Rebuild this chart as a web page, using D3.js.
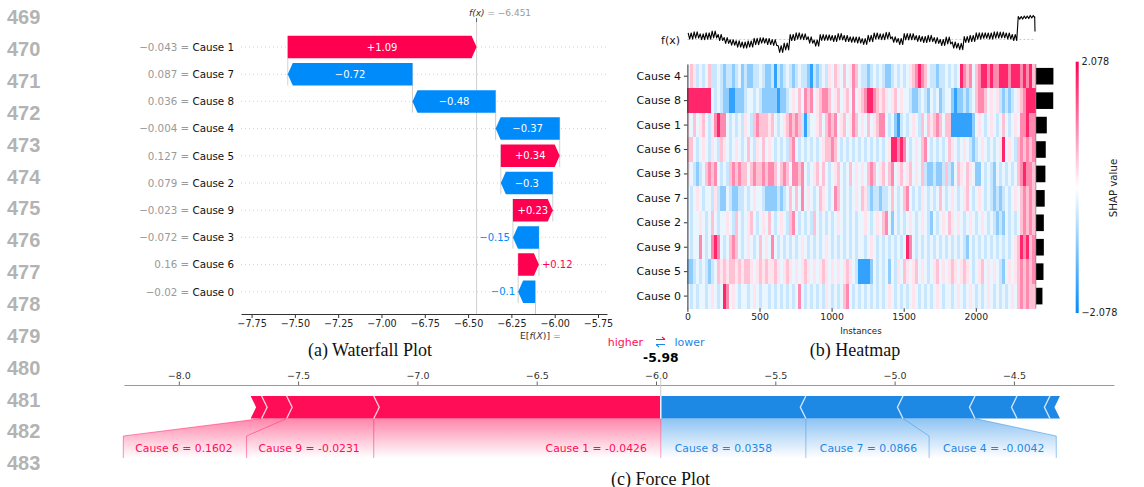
<!DOCTYPE html>
<html><head><meta charset="utf-8">
<script src="https://cdn.jsdelivr.net/npm/d3@7"></script>
<style>
html,body{margin:0;padding:0;background:#fff;}
svg{display:block;font-family:"DejaVu Sans",sans-serif;}
</style></head><body>
<svg id="fig" width="1144" height="487"></svg>
<script>
// ---------------- data ----------------
const lineNumbers = [469,470,471,472,473,474,475,476,477,478,479,480,481,482,483];

// (a) waterfall: one instance, top row first
const wfFeatures = ["Cause 1","Cause 7","Cause 8","Cause 4","Cause 5","Cause 2","Cause 9","Cause 3","Cause 6","Cause 0"];
const wfFeatureValues = [-0.043,0.087,0.036,-0.004,0.127,0.079,-0.023,-0.072,0.16,-0.02];
const wfShap = [1.09,-0.72,-0.48,-0.37,0.34,-0.3,0.23,-0.15,0.12,-0.1];
const wfOutput = -6.451;
const wfTicks = [-7.75,-7.5,-7.25,-7.0,-6.75,-6.5,-6.25,-6.0,-5.75];

// (b) heatmap
const hmFeatures = ["Cause 4","Cause 8","Cause 1","Cause 6","Cause 3","Cause 7","Cause 2","Cause 9","Cause 5","Cause 0"];
const hmInstances = 2414;
const hmLimit = 2.078;
const hmTicks = [0,500,1000,1500,2000];
const hmImportance = [1.0,0.99,0.62,0.56,0.54,0.50,0.45,0.45,0.43,0.37];
// SHAP value of each code letter
const hmLevels = {B:-1.66,b:-0.92,l:-0.45,w:-0.18,".":0,p:0.22,q:0.5,r:0.95,R:1.77};
// one string per feature, each letter = one run of consecutive instances
const hmRows = [
  "wqplwlwqllwlbllblwblbbllwlbb"+"lBlblwlblwllbBlblwlpwqpwqwprqw"+"llblwlwlbblwlwlwpqrRrqwllbllw"+"lwlwRrqrwqrRRrRrrRRRrRRRrRrRq",
  "RRRRRRRRwlwlbbBBbbblwwlwlbbb"+"bbBbblwpwqwrqrwpqrrqwpqwpqwrwp"+"qrRRrqpqpwpqwpwwlbblwlbwlwblw"+"wbBbblblwqrrqwpwplblblwpqrRRR",
  "pwqwpqwlprRrrwlwlwlpwlqrqqqp"+"qwlwpqrqrqlBlwwpqwqrqrwpqwprqw"+"pwqwpqrrwlwbBlwlwpwlqwqpqrqwq"+"qBBBBBBBbwpwlwpwlwqwlwpwrrRrr",
  "qqwlwpwlpwlqpwlwpwlwqwlpwqwp"+"wlwlwlqrwlwlwlwlwpqqrqwlwlwlwl"+"wlwlwlwlwpRRrRrwlwpwqrwlwlwlw"+"qpwlwpwlblwpwlwlwpRwpwlqrqrqr",
  "pwlblwqrqrwlwlqrqrqqwqrqqrqr"+"rqwqrqwrrqrwlwpqwqwlwpqwlwqwpw"+"pwqrqwpqwqrwpqwpqwpwqlbblbblq"+"lbwqpwqpwbbwlwlbwlwlwlwqrRrrq",
  "wlwpwlwwlplbbwlbbllwlwpwwlbb"+"bblblwqwqwrwpwlwqpwlwrqwlwlwpw"+"qplbllbllwqwlwqrwlwlpwlwlwqwl"+"wpwlwpqwlwpwlwlblblwlwpwqrqrq",
  "wlwwpwlwqwlwwpwlqwlwpqwlwpwq"+"wlwpwlqrwlwlwlqwlwlwlwpwlwlwlw"+"wpwlwpwqrwbwlwlwpwlwpwlbwlwpw"+"qpwpwlwpwlwpwlwlblbwlwlwqrqrq",
  "wlwwrwlwrRrwlwqrqwlwpwlwqwpw"+"rwlwlwlwlwpwlwlwlwpwlwlwlwlwlw"+"wlwpwlwlwlwlwlwRrwlwlwlwlwlwl"+"wlwlwlbwlwlwlwlwlwlwlwpqRrRqr",
  "bblwlwlblwqpqpqqpqpqqpwpqpqp"+"pqpwpqpwpwpqpwpwpqpwpwpwpqpwlB"+"BBBbwlwlwbwlpwqpwpqwpwlwpqwpw"+"pqpwpqpwlwpqwpwpwlbwpwpqrqrqr",
  "wlwlwwlwpwlwRrwpwlwwlwpwlwwl"+"wlwlwlwlwrwlwlwlwlpwlwlwqrwlwl"+"wlwlwlwlwpwlwlwlwpwlwlwlwpwlw"+"wlwpwlwpwlwlwpwlwlwlwpwqrqrqq"
];
// model output f(x) over the instances: centre and half-range per run
const fxMid = [-5.65,-5.52,-5.74,-5.65,-5.46,-5.84,-6.21,-6.46,-6.65,-6.78,
  -6.65,-6.34,-6.21,-6.34,-6.46,-7.28,-6.96,-5.84,-5.65,-5.74,
  -6.15,-6.53,-5.84,-5.84,-5.96,-5.74,-5.96,-6.09,-6.15,-6.34,
  -5.96,-5.65,-5.74,-5.59,-6.09,-6.34,-5.74,-5.74,-5.96,-6.09,
  -5.96,-6.21,-6.46,-6.21,-6.78,-6.96,-6.09,-5.96,-5.65,-5.59,
  -5.65,-5.52,-5.52,-5.65,-5.84,-3.38,-3.31,-3.24];
const fxSpread = [0.38,0.4,0.36,0.4,0.42,0.38,0.36,0.34,0.4,0.38,
  0.38,0.4,0.34,0.38,0.36,0.42,0.42,0.38,0.4,0.36,
  0.4,0.38,0.36,0.34,0.38,0.4,0.38,0.34,0.38,0.36,
  0.4,0.38,0.36,0.4,0.34,0.38,0.4,0.38,0.36,0.38,
  0.4,0.36,0.38,0.42,0.38,0.4,0.36,0.38,0.4,0.34,
  0.38,0.4,0.36,0.38,0.38,0.16,0.16,0.16];
const fxLast = -5.1;
const fxBase = -6.08;

// (c) force plot
const fpOutput = -5.98;
const fpNames = ["Cause 1","Cause 9","Cause 6","Cause 5","Cause 8","Cause 7","Cause 4","Cause 2","Cause 3","Cause 0"];
const fpEffects = [1.203,0.365,0.105,0.046,-0.608,-0.407,-0.302,-0.176,-0.138,-0.042];
const fpValues = ["-0.0426","-0.0231","0.1602",null,"0.0358","0.0866","-0.0042",null,null,null];
const fpTicks = [-8.0,-7.5,-7.0,-6.5,-6.0,-5.5,-5.0,-4.5];

// ---------------- drawing ----------------
const RED = "#ff0051", BLUE = "#008bfb";
const FRED = "#ff0d57", FBLUE = "#1e88e5";
const svg = d3.select("#fig");
const defs = svg.append("defs");
const trimNum = (v, d) => { let s = Math.abs(v).toFixed(d).replace(/0+$/,"").replace(/\.$/,""); return (v < 0 ? "\u2212" : "") + s; };

// line numbers in the margin
svg.append("g").selectAll("text").data(lineNumbers).join("text")
  .attr("x", 7).attr("y", (d, i) => 17 + 31.86 * i).attr("dy", "0.36em")
  .attr("font-family", "Liberation Sans, Arial, sans-serif").attr("font-weight", "bold")
  .attr("font-size", 20).attr("fill", "#b3b3b3").text(d => d);

// ===== (a) waterfall =====
const wf = svg.append("g");
const wx = d3.scaleLinear().domain([-7.811, -5.698]).range([241, 607]);
const rowY = i => 47 + 27.2 * i;
const barH = 22.5, headLen = 5;
// cumulative positions, from f(x) at the top down to the base value
const wfEnd = [], wfStart = [];
{ let cur = wfOutput; wfShap.forEach((v, i) => { wfEnd[i] = cur; wfStart[i] = cur - v; cur = wfStart[i]; }); }
const wfBase = wfStart[wfStart.length - 1];

// dotted row guides
wf.append("g").selectAll("line").data(wfFeatures).join("line")
  .attr("x1", 241).attr("x2", 607).attr("y1", (d, i) => rowY(i)).attr("y2", (d, i) => rowY(i))
  .attr("stroke", "#c8c8c8").attr("stroke-width", 0.8).attr("stroke-dasharray", "1,3");
// connectors between consecutive bars
wf.append("g").selectAll("line").data(d3.range(wfFeatures.length - 1)).join("line")
  .attr("x1", i => wx(wfStart[i])).attr("x2", i => wx(wfStart[i]))
  .attr("y1", i => rowY(i) - barH / 2).attr("y2", i => rowY(i + 1) + barH / 2)
  .attr("stroke", "#bbb").attr("stroke-width", 0.7);
// f(x) and E[f(X)] guides
wf.append("line").attr("x1", wx(wfOutput)).attr("x2", wx(wfOutput)).attr("y1", 19).attr("y2", 314)
  .attr("stroke", "#c4c4c4").attr("stroke-width", 0.8);
wf.append("line").attr("x1", wx(wfOutput)).attr("x2", wx(wfOutput)).attr("y1", 18).attr("y2", 22)
  .attr("stroke", "#444").attr("stroke-width", 0.8);
wf.append("line").attr("x1", wx(wfBase)).attr("x2", wx(wfBase)).attr("y1", rowY(9) + barH / 2).attr("y2", 314)
  .attr("stroke", "#bbb").attr("stroke-width", 0.8);

// bars
wfShap.forEach((v, i) => {
  const xs = wx(wfStart[i]), xe = wx(wfEnd[i]), y = rowY(i);
  const dir = Math.sign(xe - xs), h = Math.min(Math.abs(xe - xs), headLen);
  const pts = [[xs, y - barH / 2], [xe - dir * h, y - barH / 2], [xe, y], [xe - dir * h, y + barH / 2], [xs, y + barH / 2]];
  const col = v > 0 ? RED : BLUE;
  wf.append("path").attr("d", d3.line()(pts) + "Z").attr("fill", col);
  const label = (v > 0 ? "+" : "") + trimNum(v, 2);
  const t = wf.append("text").attr("y", y).attr("dy", "0.36em").attr("font-size", 10).text(label);
  const tw = t.node().getComputedTextLength();
  if (Math.abs(xe - xs) > tw + 4) {
    t.attr("x", (xs + xe) / 2).attr("text-anchor", "middle").attr("fill", "#fff");
  } else if (v > 0) {
    t.attr("x", xe + 3).attr("text-anchor", "start").attr("fill", col);
  } else {
    t.attr("x", xe - 3).attr("text-anchor", "end").attr("fill", col);
  }
});
// row labels
wfFeatures.forEach((name, i) => {
  const t = wf.append("text").attr("x", 234).attr("y", rowY(i)).attr("dy", "0.36em")
    .attr("text-anchor", "end").attr("font-size", 10.3);
  t.append("tspan").attr("fill", "#999").text(trimNum(wfFeatureValues[i], 3) + " = ");
  t.append("tspan").attr("fill", "#111").text(name);
});
// axis
const wAxis = wf.append("g").attr("transform", "translate(0,314)")
  .call(d3.axisBottom(wx).tickValues(wfTicks).tickFormat(d3.format(".2f")).tickSize(4).tickSizeOuter(0).tickPadding(2));
wAxis.select(".domain").attr("stroke", "#333");
wAxis.selectAll(".tick line").attr("stroke", "#333");
wAxis.selectAll("text").attr("font-size", 9.6).attr("font-family", "DejaVu Sans").attr("fill", "#222");
// f(x) / E[f(X)] labels
{
  const t = wf.append("text").attr("x", 469).attr("y", 16).attr("font-size", 9);
  t.append("tspan").attr("fill", "#333").attr("font-style", "italic").text("f(x)");
  t.append("tspan").attr("fill", "#999").text(" = " + trimNum(wfOutput, 3));
  const e = wf.append("text").attr("x", 520).attr("y", 338.5).attr("font-size", 9.3);
  e.append("tspan").attr("fill", "#333").text("E[");
  e.append("tspan").attr("fill", "#333").attr("font-style", "italic").text("f");
  e.append("tspan").attr("fill", "#333").text("(");
  e.append("tspan").attr("fill", "#333").attr("font-style", "italic").text("X");
  e.append("tspan").attr("fill", "#333").text(")]");
  e.append("tspan").attr("fill", "#999").text(" =");
}
svg.append("text").attr("x", 370).attr("y", 355.5).attr("text-anchor", "middle")
  .attr("font-family", "Liberation Serif, Times New Roman, serif").attr("font-size", 18).attr("fill", "#111")
  .text("(a) Waterfall Plot");

// ===== (b) heatmap =====
const hm = svg.append("g");
const hx = d3.scaleLinear().domain([0, hmInstances]).range([687.4, 1035.5]);
const hy = d3.scaleBand().domain(hmFeatures).range([64, 308.3]);
const posC = d3.interpolateRgb("#ffffff", RED), negC = d3.interpolateRgb("#ffffff", BLUE);
const hmColor = v => v >= 0 ? posC(Math.min(1, v / hmLimit)) : negC(Math.min(1, -v / hmLimit));

hmRows.forEach((str, r) => {
  const run = hmInstances / str.length;
  const cells = Array.from(str, (c, i) => ({ i, v: hmLevels[c] }));
  hm.append("g").selectAll("rect").data(cells).join("rect")
    .attr("x", d => hx(d.i * run)).attr("width", d => hx((d.i + 1) * run) - hx(d.i * run) + 0.35)
    .attr("y", hy(hmFeatures[r])).attr("height", hy.bandwidth() + 0.3)
    .attr("fill", d => hmColor(d.v)).attr("shape-rendering", "crispEdges");
});
// importance bars
hm.append("g").selectAll("rect").data(hmImportance).join("rect")
  .attr("x", hx(hmInstances) + 0.5).attr("width", d => hx(d * hmInstances / 20) - hx(0))
  .attr("y", (d, i) => hy(hmFeatures[i]) + hy.bandwidth() * 0.16).attr("height", hy.bandwidth() * 0.68)
  .attr("fill", "#000");
hm.append("line").attr("x1", hx(hmInstances) + 0.3).attr("x2", hx(hmInstances) + 0.3).attr("y1", 64).attr("y2", 308.3)
  .attr("stroke", "#888").attr("stroke-width", 0.8);
// axes
const hyAxis = hm.append("g").attr("transform", "translate(687.4,0)")
  .call(d3.axisLeft(hy).tickSize(3.5).tickSizeOuter(0).tickPadding(3));
hyAxis.select(".domain").attr("stroke", "#333");
hyAxis.selectAll(".tick line").attr("stroke", "#333");
hyAxis.selectAll("text").attr("font-size", 11).attr("font-family", "DejaVu Sans").attr("fill", "#111");
const hxAxis = hm.append("g").attr("transform", "translate(0,308.3)")
  .call(d3.axisBottom(hx).tickValues(hmTicks).tickFormat(d3.format("d")).tickSize(3.5).tickPadding(2));
hxAxis.select(".domain").remove();
hxAxis.selectAll(".tick line").attr("stroke", "#333");
hxAxis.selectAll("text").attr("font-size", 9.3).attr("font-family", "DejaVu Sans").attr("fill", "#222");
hm.append("text").attr("x", 861).attr("y", 334).attr("text-anchor", "middle").attr("font-size", 8.7).attr("fill", "#222").text("Instances");

// f(x) trace above the heatmap: each run drawn between its low and high values
const fyScale = d3.scaleLinear().domain([-7.9, -3.0]).range([54, 14.8]);
hm.append("line").attr("x1", hx(0)).attr("x2", hx(hmInstances)).attr("y1", fyScale(fxBase)).attr("y2", fyScale(fxBase))
  .attr("stroke", "#bbb").attr("stroke-width", 0.8).attr("stroke-dasharray", "2,2");
{
  const run = hmInstances / fxMid.length, pts = [];
  fxMid.forEach((m, j) => {
    const s = fxSpread[j];
    [[0.125, m + s], [0.375, m - s], [0.625, m + s], [0.875, m - s]].forEach(([f, v]) => pts.push([hx((j + f) * run), fyScale(v)]));
  });
  pts.push([hx(hmInstances) - 0.8, fyScale(fxMid[fxMid.length - 1])]);
  pts.push([hx(hmInstances) - 0.5, fyScale(fxLast)]);
  hm.append("path").attr("d", d3.line()(pts)).attr("fill", "none").attr("stroke", "#000").attr("stroke-width", 1.1)
    .attr("stroke-linejoin", "round");
}
hm.append("text").attr("x", 680).attr("y", 40).attr("dy", "0.36em").attr("text-anchor", "end").attr("font-size", 11).attr("fill", "#111").text("f(x)");

// colour bar
{
  const g = defs.append("linearGradient").attr("id", "cbar").attr("x1", 0).attr("x2", 0).attr("y1", 0).attr("y2", 1);
  d3.range(0, 1.0001, 0.1).forEach(t => g.append("stop").attr("offset", t).attr("stop-color", hmColor(hmLimit * (1 - 2 * t))));
  hm.append("rect").attr("x", 1075.7).attr("y", 61.7).attr("width", 3).attr("height", 251.3).attr("fill", "url(#cbar)");
  hm.append("text").attr("x", 1081.5).attr("y", 62).attr("dy", "0.36em").attr("font-size", 9.7).attr("fill", "#222").text(trimNum(hmLimit, 3));
  hm.append("text").attr("x", 1081.5).attr("y", 313).attr("dy", "0.36em").attr("font-size", 9.7).attr("fill", "#222").text(trimNum(-hmLimit, 3));
  hm.append("text").attr("transform", "translate(1113,188) rotate(-90)").attr("text-anchor", "middle").attr("dy", "0.36em")
    .attr("font-size", 10.2).attr("fill", "#222").text("SHAP value");
}
svg.append("text").attr("x", 855).attr("y", 355.5).attr("text-anchor", "middle")
  .attr("font-family", "Liberation Serif, Times New Roman, serif").attr("font-size", 18).attr("fill", "#111")
  .text("(b) Heatmap");

// ===== (c) force plot =====
const fp = svg.append("g");
const fxScale = d3.scaleLinear().domain([-8.2297, -4.0805]).range([124, 1114]);
const barTop = 396, barBot = 418.5, barMid = (barTop + barBot) / 2, tip = 5.5;
const ox = fxScale(fpOutput);
const fpFont = 10.8;

// axis
const fAxis = fp.append("g").attr("transform", "translate(0,385)")
  .call(d3.axisTop(fxScale).tickValues(fpTicks).tickFormat(d3.format(".1f")).tickSize(3.5).tickSizeOuter(0).tickPadding(3));
fAxis.select(".domain").attr("stroke", "#999");
fAxis.selectAll(".tick line").attr("stroke", "#666");
fAxis.selectAll("text").attr("font-size", 9.5).attr("font-family", "DejaVu Sans").attr("fill", "#333");

// segments
const pos = [], neg = [];
{
  let r = ox, l = ox;
  fpEffects.forEach((e, i) => {
    const w = fxScale(fpOutput + Math.abs(e)) - ox;
    if (e > 0) { pos.push({ i, a: r - w, b: r, first: pos.length === 0 }); r -= w; }
    else { neg.push({ i, a: l, b: l + w, first: neg.length === 0 }); l += w; }
  });
}
// label boxes below the bar
const labelY = 448.3, boxTop = 436, boxBot = 458, pad = 14;
const measure = svg.append("text").attr("font-size", fpFont).attr("visibility", "hidden");
const textW = s => { measure.text(s); return measure.node().getComputedTextLength(); };
{
  let prev = ox;
  pos.forEach(s => {
    if (fpValues[s.i] === null) return;
    s.text = fpNames[s.i] + " = " + fpValues[s.i];
    s.br = Math.min(s.b, prev);
    s.bl = Math.min(s.a, s.br - (textW(s.text) + 2 * pad - 2));
    prev = s.bl;
  });
  prev = ox;
  neg.forEach(s => {
    if (fpValues[s.i] === null) return;
    s.text = fpNames[s.i] + " = " + fpValues[s.i];
    s.bl = Math.max(s.a, prev);
    s.br = Math.max(s.b, s.bl + textW(s.text) + 2 * pad - 2);
    prev = s.br;
  });
}
measure.remove();
[["gRed", FRED], ["gBlue", FBLUE]].forEach(([id, c]) => {
  const g = defs.append("linearGradient").attr("id", id).attr("x1", 0).attr("x2", 0).attr("y1", 0).attr("y2", 1);
  g.append("stop").attr("offset", 0).attr("stop-color", c).attr("stop-opacity", 0.5);
  g.append("stop").attr("offset", 1).attr("stop-color", c).attr("stop-opacity", 0);
});
[...pos, ...neg].filter(s => s.text).forEach(s => {
  const isPos = pos.includes(s);
  const pts = [[s.a, barBot], [s.b, barBot], [s.br, boxTop], [s.br, boxBot], [s.bl, boxBot], [s.bl, boxTop]];
  fp.append("path").attr("d", d3.line()(pts) + "Z").attr("fill", `url(#${isPos ? "gRed" : "gBlue"})`);
  // outer boundary line of each label
  const edge = isPos ? [[s.a, barBot], [s.bl, boxTop], [s.bl, boxBot]] : [[s.b, barBot], [s.br, boxTop], [s.br, boxBot]];
  fp.append("path").attr("d", d3.line()(edge)).attr("fill", "none")
    .attr("stroke", isPos ? FRED : FBLUE).attr("stroke-opacity", 0.45).attr("stroke-width", 1);
  fp.append("text").attr("x", isPos ? s.br - pad : s.bl + pad).attr("y", labelY).attr("dy", "0.36em")
    .attr("text-anchor", isPos ? "end" : "start").attr("font-size", fpFont).attr("fill", isPos ? FRED : FBLUE).text(s.text);
});
fp.append("line").attr("x1", ox).attr("x2", ox).attr("y1", barBot).attr("y2", boxBot)
  .attr("stroke", FRED).attr("stroke-opacity", 0.35).attr("stroke-width", 1);

// bar polygons
pos.forEach(s => {
  const rt = s.first ? [[s.b, barTop], [s.b, barBot]] : [[s.b, barTop], [s.b + tip, barMid], [s.b, barBot]];
  const pts = [[s.a, barTop], ...rt, [s.a, barBot], [s.a + tip, barMid]];
  fp.append("path").attr("d", d3.line()(pts) + "Z").attr("fill", FRED);
});
neg.forEach(s => {
  const lt = s.first ? [[s.a, barBot], [s.a, barTop]] : [[s.a, barBot], [s.a - tip, barMid], [s.a, barTop]];
  const pts = [...lt, [s.b, barTop], [s.b - tip, barMid], [s.b, barBot]];
  fp.append("path").attr("d", d3.line()(pts) + "Z").attr("fill", FBLUE);
});
// white chevrons between segments
pos.filter(s => !s.first).forEach(s => {
  fp.append("path").attr("d", d3.line()([[s.b, barTop], [s.b + tip, barMid], [s.b, barBot]])).attr("fill", "none")
    .attr("stroke", "#fff").attr("stroke-opacity", 0.75).attr("stroke-width", 1.4);
});
neg.filter(s => !s.first).forEach(s => {
  fp.append("path").attr("d", d3.line()([[s.a, barTop], [s.a - tip, barMid], [s.a, barBot]])).attr("fill", "none")
    .attr("stroke", "#fff").attr("stroke-opacity", 0.75).attr("stroke-width", 1.4);
});
fp.append("line").attr("x1", ox).attr("x2", ox).attr("y1", barTop).attr("y2", barBot).attr("stroke", "#fff").attr("stroke-width", 1.4);
fp.append("line").attr("x1", ox).attr("x2", ox).attr("y1", 378).attr("y2", barTop).attr("stroke", "#ccc").attr("stroke-width", 1);

// output value and direction legend
fp.append("text").attr("x", ox).attr("y", 358).attr("dy", "0.36em").attr("text-anchor", "middle")
  .attr("font-size", 12.3).attr("font-weight", "bold").attr("fill", "#000").text(fpOutput.toFixed(2));
fp.append("text").attr("x", 643).attr("y", 342).attr("dy", "0.36em").attr("text-anchor", "end")
  .attr("font-size", 11).attr("fill", FRED).text("higher");
fp.append("text").attr("x", 674.5).attr("y", 342).attr("dy", "0.36em").attr("text-anchor", "start")
  .attr("font-size", 11).attr("fill", FBLUE).text("lower");
fp.append("path").attr("d", "M656,339.5H665M662,337L665,339.5").attr("fill", "none").attr("stroke", FRED).attr("stroke-width", 1.1);
fp.append("path").attr("d", "M665,344.5H656M659,347L656,344.5").attr("fill", "none").attr("stroke", FBLUE).attr("stroke-width", 1.1);

svg.append("text").attr("x", 660.5).attr("y", 484.5).attr("text-anchor", "middle")
  .attr("font-family", "Liberation Serif, Times New Roman, serif").attr("font-size", 18).attr("fill", "#111")
  .text("(c) Force Plot");
</script>
</body></html>
